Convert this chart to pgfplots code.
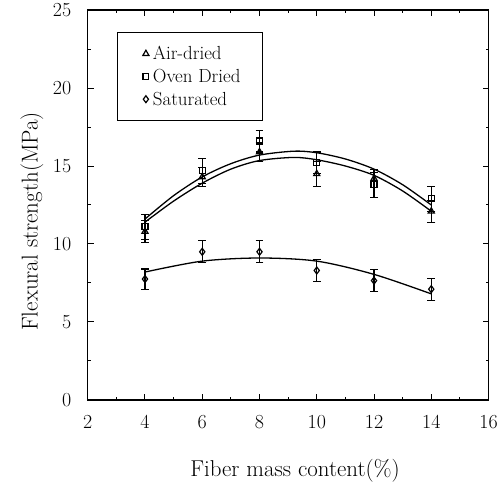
\documentclass[border=0pt]{standalone}
\usepackage{pgfplots}
\pgfplotsset{compat=1.18}
\begin{document}
\begin{tikzpicture}
\begin{axis}[
  scale only axis,
  width=402pt, height=391pt,
  clip=false,
  xmin=2, xmax=16, ymin=0, ymax=25,
  xtick distance=2, ytick distance=5,
  minor x tick num=1, minor y tick num=1,
  tick align=inside,
  major tick length=6pt, minor tick length=3pt,
  every tick/.style={black, line width=1pt},
  axis line style={line width=1.2pt},
  xticklabel={\pgfmathprintnumber[assume math mode=true]{\tick}},
  yticklabel={\pgfmathprintnumber[assume math mode=true]{\tick}},
  tick label style={font=\fontsize{20}{24}\selectfont},
  xticklabel style={yshift=-12pt},
  yticklabel style={xshift=-13pt},
  xlabel={Fiber mass content(\%)},
  ylabel={Flexural strength(MPa)},
  label style={font=\fontsize{23}{27}\selectfont},
  xlabel style={at={(axis description cs:0.517,-0.1816)}, anchor=center},
  ylabel style={at={(axis description cs:-0.139,0.458)}, anchor=center},
  legend cell align=left,
  legend style={at={(axis description cs:0.072,0.944)}, anchor=north west,
    draw=black, line width=0.8pt,
    font=\fontsize{19}{22}\selectfont, inner xsep=20pt, inner ysep=12pt,
    row sep=4pt},
  legend image code/.code={\path[draw=none] (-9pt,0) -- (5pt,0);\draw[#1] plot coordinates {(0pt,0pt)};},
  error bars/error bar style={line width=1.2pt},
  error bars/error mark options={rotate=90, mark size=4pt, line width=1.2pt},
]
% Air-dried
\addplot[black, only marks, mark=triangle, mark size=3.5pt, line width=1.2pt,
  error bars/.cd, y dir=both, y explicit]
  coordinates {
  (4,10.8) +- (0,0.7)
  (6,14.3) +- (0,0.6)
  (8,15.9) +- (0,0.6)
  (10,14.5) +- (0,0.8)
  (12,14.2) +- (0,0.6)
  (14,12.1) +- (0,0.7)
  };
\addlegendentry{Air-dried}
% Oven dried
\addplot[black, only marks, mark=square, mark size=3pt, line width=1.2pt,
  error bars/.cd, y dir=both, y explicit]
  coordinates {
  (4,11.1) +- (0,0.8)
  (6,14.7) +- (0,0.8)
  (8,16.6) +- (0,0.7)
  (10,15.2) +- (0,0.7)
  (12,13.8) +- (0,0.8)
  (14,12.9) +- (0,0.8)
  };
\addlegendentry{Oven Dried}
% Saturated
\addplot[black, only marks, mark=diamond, mark size=3.5pt, line width=1.2pt,
  error bars/.cd, y dir=both, y explicit]
  coordinates {
  (4,7.75) +- (0,0.65)
  (6,9.5) +- (0,0.7)
  (8,9.5) +- (0,0.7)
  (10,8.3) +- (0,0.7)
  (12,7.65) +- (0,0.7)
  (14,7.1) +- (0,0.7)
  };
\addlegendentry{Saturated}
% fitted curves
\addplot[black, line width=1.3pt, smooth, forget plot] coordinates {
  (4,11.6) (5,13.1) (6,14.3) (7,15.15) (8,15.7) (9.2,15.95) (10,15.85) (11,15.45) (12,14.8) (13,13.8) (14,12.5)};
\addplot[black, line width=1.3pt, smooth, forget plot] coordinates {
  (4,11.4) (5,12.75) (6,13.9) (7,14.8) (8,15.35) (9.2,15.55) (10,15.4) (11,15.0) (12,14.4) (13,13.4) (14,12.1)};
\addplot[black, line width=1.3pt, smooth, forget plot] coordinates {
  (4,8.2) (6,8.9) (8,9.1) (10,8.9) (12,8.05) (14,6.8)};
% page margins
\path (axis description cs:0,0) ++(-88pt,-83pt);
\path (axis description cs:1,1) ++(11pt,8pt);
\end{axis}
\end{tikzpicture}
\end{document}
